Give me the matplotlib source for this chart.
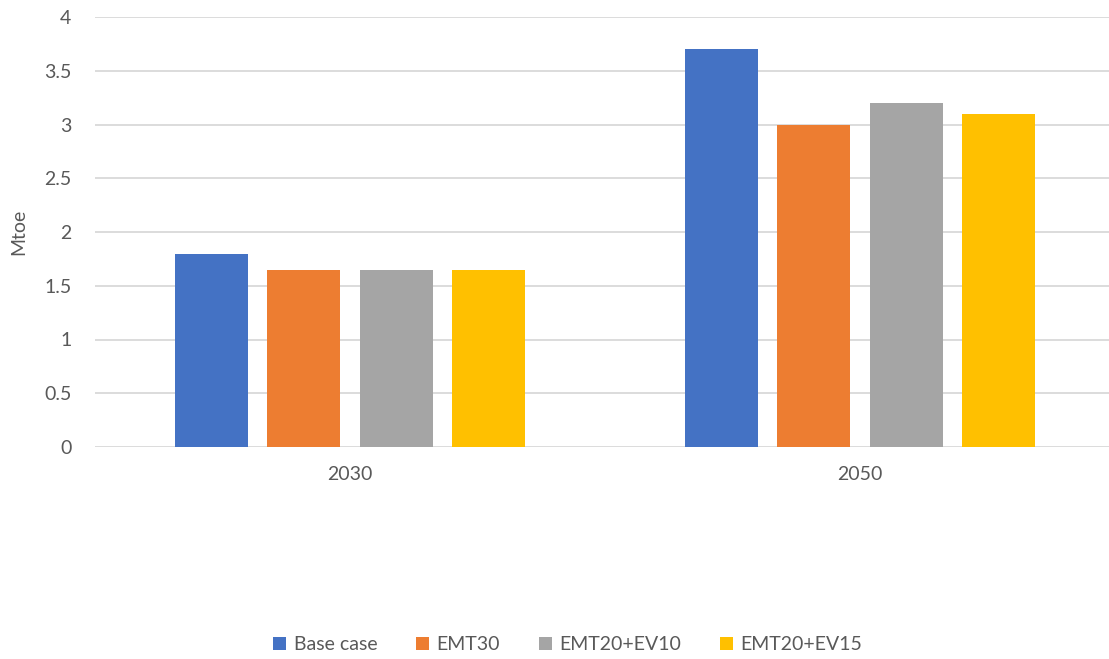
import matplotlib.pyplot as plt
import numpy as np
from matplotlib.patches import Patch

years = ['2030', '2050']
scenarios = ['Base case', 'EMT30', 'EMT20+EV10', 'EMT20+EV15']
values = {
    'Base case': [1.8, 3.7],
    'EMT30': [1.65, 3.0],
    'EMT20+EV10': [1.65, 3.2],
    'EMT20+EV15': [1.65, 3.1],
}
colors = ['#4472C4', '#ED7D31', '#A5A5A5', '#FFC000']
yticks = [0, 0.5, 1, 1.5, 2, 2.5, 3, 3.5, 4]
ytick_labels = ['0', '0.5', '1', '1.5', '2', '2.5', '3', '3.5', '4']

plt.rcParams['font.family'] = ['Lato', 'DejaVu Sans']
text_color = '#595959'
fs = 14

W, H = 1109, 659
fig = plt.figure(figsize=(W / 100, H / 100), dpi=100)
ax = fig.add_axes([95 / W, (H - 447) / H, (W - 95) / W, 430 / H])

x = np.arange(len(years))
width = 73 / 510
step = 92.5 / 510
for i, s in enumerate(scenarios):
    ax.bar(x + (i - 1.5) * step, values[s], width, color=colors[i], zorder=3)

ax.set_xlim(-0.5, 1.5 - 6 / 510)
ax.set_ylim(0, 4)
ax.set_yticks(yticks)
ax.set_yticklabels(ytick_labels)
ax.set_xticks(x)
ax.set_xticklabels(years)
ax.grid(axis='y', color='#D9D9D9', linewidth=1.3, zorder=0)
for sp in ['top', 'right', 'left', 'bottom']:
    ax.spines[sp].set_visible(False)
ax.tick_params(axis='both', length=0, labelsize=fs, colors=text_color)
ax.tick_params(axis='y', pad=17)
ax.tick_params(axis='x', pad=14)
ax.set_ylabel('Mtoe', fontsize=fs, color=text_color)
ax.yaxis.set_label_coords(-68 / (W - 95), 0.5)

handles = [Patch(facecolor=c) for c in colors]
fig.legend(handles, scenarios, loc='center', bbox_to_anchor=(568 / W, 1 - 645 / H),
           ncol=4, frameon=False, fontsize=fs, labelcolor=text_color,
           handlelength=0.65, handleheight=0.65, handletextpad=0.4, columnspacing=2.0)

fig.savefig('out.png', dpi=100)
